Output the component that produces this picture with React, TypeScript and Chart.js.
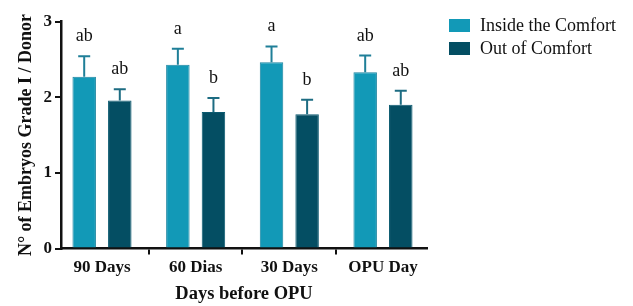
import React, { useEffect, useRef } from "react";
import { Chart, registerables } from "chart.js";

Chart.register(...registerables);

const categories = ["90 Days", "60 Dias", "30 Days", "OPU Day"];
const seriesNames = ["Inside the Comfort", "Out of Comfort"];
const insideValues = [2.27, 2.43, 2.46, 2.33];
const insideErrors = [0.27, 0.21, 0.21, 0.22];
const outValues = [1.955, 1.805, 1.775, 1.9];
const outErrors = [0.15, 0.185, 0.19, 0.185];
const insideLetters = ["ab", "a", "a", "ab"];
const outLetters = ["ab", "b", "b", "ab"];
const yTicks = [0, 1, 2, 3];

const fillColors = ["#1299b7", "#044e63"];
const borderColors = ["#1a84a0", "#0b5a70"];
const errorColors = ["#1f7f98", "#1d6c82"];
const SERIF = "'Liberation Serif', 'Times New Roman', serif";

const errorAndLetters = {
  id: "errorAndLetters",
  afterDatasetsDraw(chart: any) {
    const ctx = chart.ctx;
    const y = chart.scales.y;
    const errs = [insideErrors, outErrors];
    const vals = [insideValues, outValues];
    const letters = [insideLetters, outLetters];
    ctx.save();
    for (let d = 0; d < 2; d++) {
      const meta = chart.getDatasetMeta(d);
      meta.data.forEach((bar: any, i: number) => {
        const x = bar.x;
        const top = y.getPixelForValue(vals[d][i] + errs[d][i]);
        const base = y.getPixelForValue(vals[d][i]);
        ctx.strokeStyle = errorColors[d];
        ctx.lineWidth = 2;
        ctx.beginPath();
        ctx.moveTo(x, base);
        ctx.lineTo(x, top);
        ctx.moveTo(x - 6, top);
        ctx.lineTo(x + 6, top);
        ctx.stroke();
        ctx.fillStyle = "#111";
        ctx.font = `18px ${SERIF}`;
        ctx.textAlign = "center";
        ctx.textBaseline = "alphabetic";
        ctx.fillText(letters[d][i], x, top - 15);
      });
    }
    ctx.restore();
  },
};

const customLegend = {
  id: "customLegend",
  afterDraw(chart: any) {
    const ctx = chart.ctx;
    ctx.save();
    chart.data.datasets.forEach((ds: any, i: number) => {
      const cy = 25.5 + i * 23;
      ctx.fillStyle = ds.backgroundColor;
      ctx.fillRect(449, cy - 6.5, 21, 13);
      ctx.fillStyle = "#111";
      ctx.font = `18px ${SERIF}`;
      ctx.textAlign = "left";
      ctx.textBaseline = "middle";
      ctx.fillText(ds.label, 480, cy + 1);
    });
    ctx.restore();
  },
};

export default function App() {
  const ref = useRef<HTMLCanvasElement>(null);
  useEffect(() => {
    if (!ref.current) return;
    const chart = new Chart(ref.current, {
      type: "bar",
      data: {
        datasets: [
          {
            label: seriesNames[0],
            data: insideValues.map((v, i) => ({ x: i, y: v })),
            backgroundColor: fillColors[0],
            borderColor: borderColors[0],
            borderWidth: 1,
            categoryPercentage: 0.76,
            barPercentage: 0.66,
          },
          {
            label: seriesNames[1],
            data: outValues.map((v, i) => ({ x: i, y: v })),
            backgroundColor: fillColors[1],
            borderColor: borderColors[1],
            borderWidth: 1,
            categoryPercentage: 0.76,
            barPercentage: 0.66,
          },
        ] as any,
      },
      options: {
        animation: false,
        responsive: true,
        maintainAspectRatio: false,
        layout: { padding: { left: 0, top: 21.5, right: 206, bottom: 0 } },
        plugins: { legend: { display: false }, tooltip: { enabled: false } },
        scales: {
          x: {
            type: "linear",
            min: -0.4377,
            max: 3.47,
            offset: false,
            afterBuildTicks: (ax: any) => {
              ax.ticks = categories.map((_, i) => ({ value: i }));
            },
            afterFit: (s: any) => {
              s.height = 57.5;
            },
            ticks: {
              callback: (v: any) => categories[v as number] ?? "",
              color: "#111",
              font: { family: SERIF, size: 17, weight: "bold" },
              padding: 3,
              maxRotation: 0,
              autoSkip: false,
            },
            grid: { drawOnChartArea: false, drawTicks: true, tickLength: 6, color: "#111", lineWidth: 2 },
            border: { color: "#111", width: 2.5 },
            title: {
              display: true,
              text: "Days before OPU",
              color: "#111",
              font: { family: SERIF, size: 18.5, weight: "bold" },
              padding: { top: 0, bottom: 1 },
            },
          },
          y: {
            min: 0,
            max: 3,
            afterBuildTicks: (ax: any) => {
              ax.ticks = yTicks.map((v) => ({ value: v }));
            },
            afterFit: (s: any) => {
              s.width = 61;
            },
            ticks: {
              color: "#111",
              font: { family: SERIF, size: 17, weight: "bold" },
              padding: 3,
            },
            grid: { drawOnChartArea: false, drawTicks: true, tickLength: 6, color: "#111", lineWidth: 2 },
            border: { color: "#111", width: 2.5 },
            title: {
              display: true,
              text: "N° of Embryos Grade I / Donor",
              color: "#111",
              font: { family: SERIF, size: 18, weight: "bold" },
              padding: { top: 16, bottom: 0 },
            },
          },
        },
      } as any,
      plugins: [errorAndLetters, customLegend],
    });
    return () => chart.destroy();
  }, []);
  return (
    <div style={{ position: "fixed", left: 0, top: 0, width: 633, height: 306, background: "#fff" }}>
      <canvas ref={ref} />
    </div>
  );
}
